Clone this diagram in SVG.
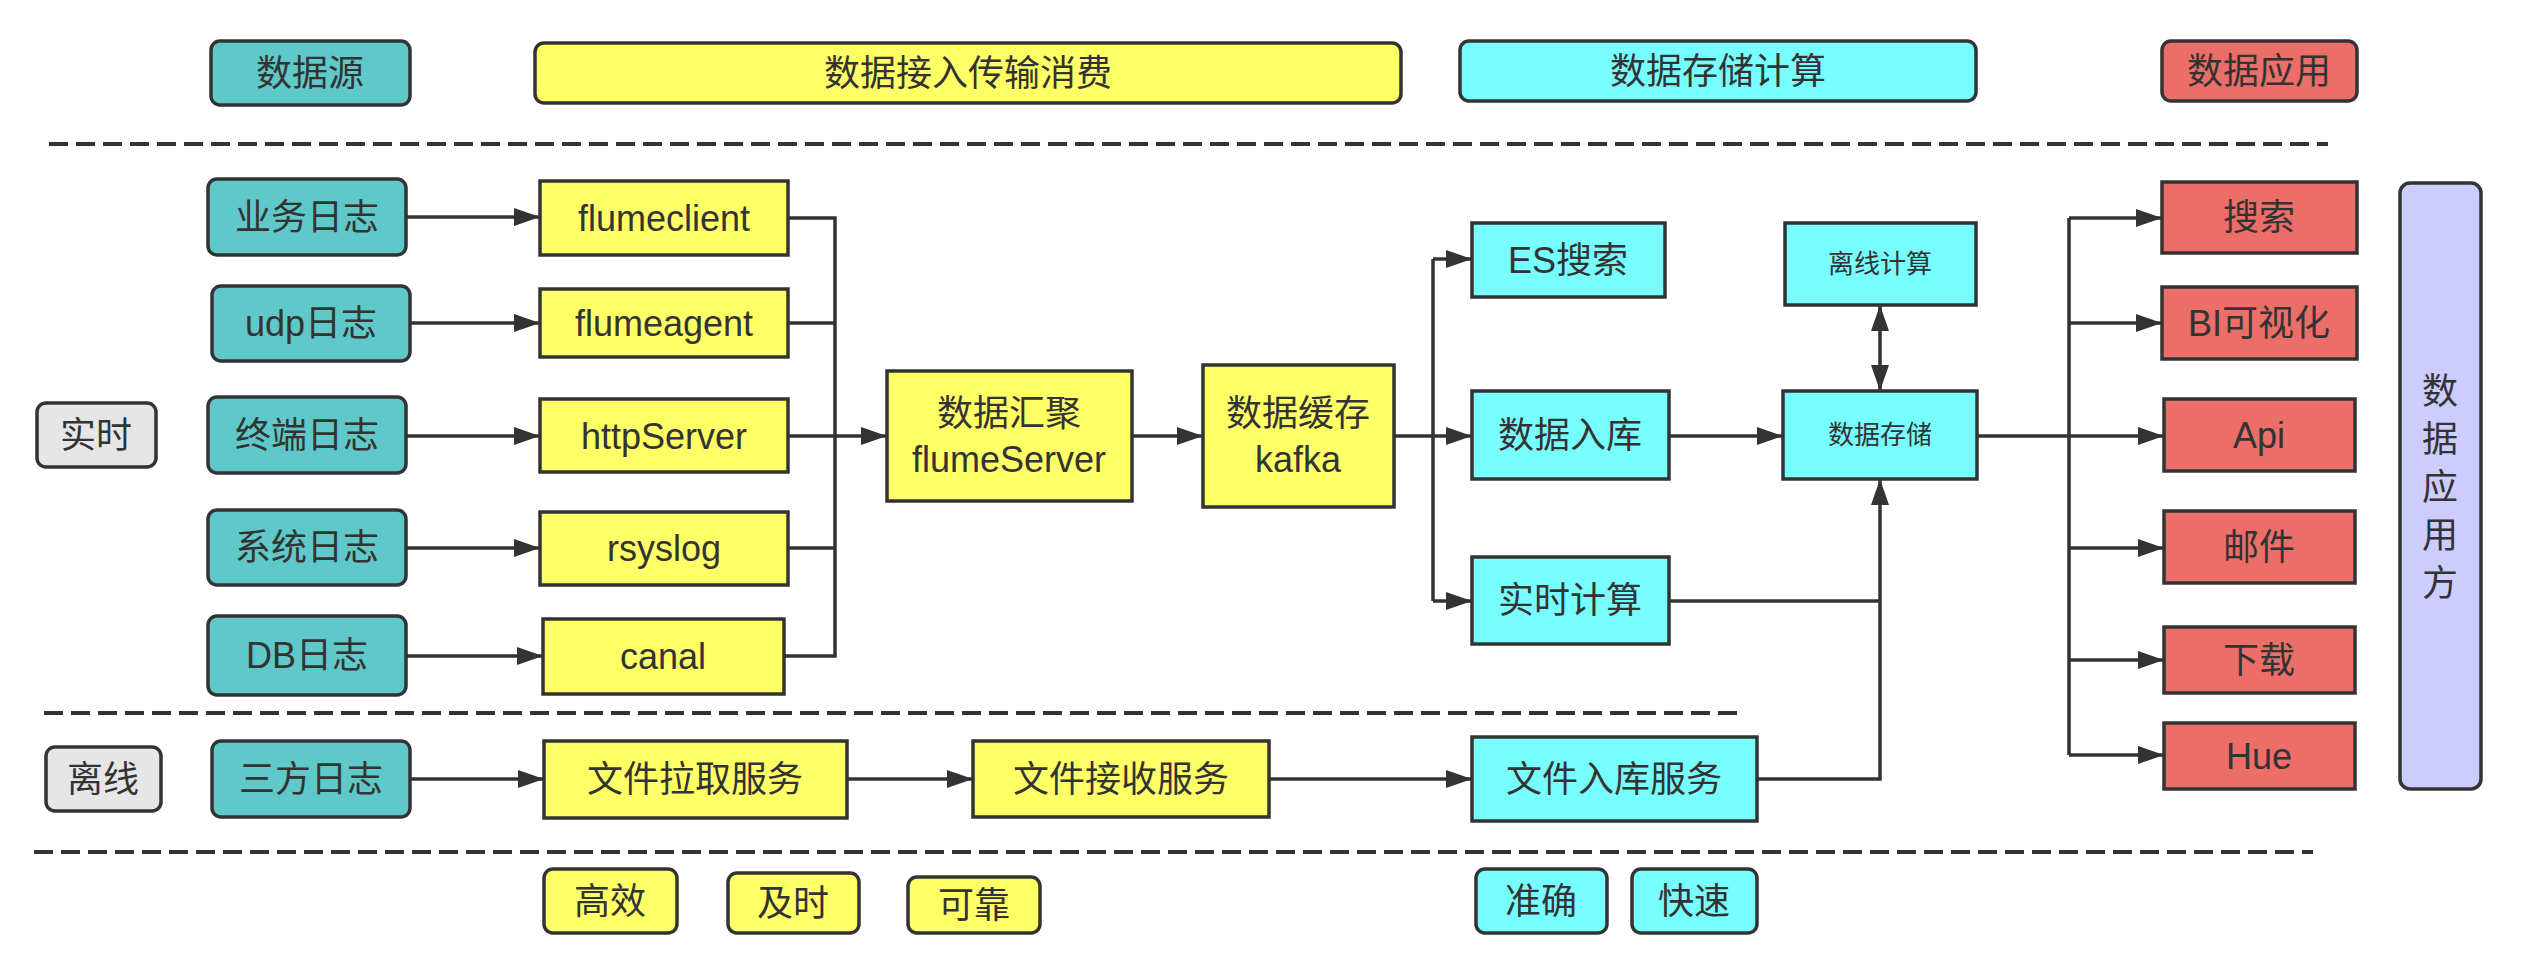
<svg xmlns="http://www.w3.org/2000/svg" width="2536" height="964" viewBox="0 0 2536 964">
<defs>
<style>
.b{stroke:#333;stroke-width:3.5}
.teal{fill:#5FC9C9}
.cyan{fill:#77FEFE}
.yel{fill:#FFFF66}
.red{fill:#EB6E69}
.pur{fill:#CCCCFF}
.gray{fill:#E6E6E6}
text{font-family:"Liberation Sans","Noto Sans CJK SC",sans-serif;font-size:36px;fill:#333;text-anchor:middle;dominant-baseline:central}
.sm{font-size:26px}
.c{fill:none;stroke:#333;stroke-width:3.5}
.ar{marker-end:url(#ah)}
.dash{fill:none;stroke:#333;stroke-width:4;stroke-dasharray:19 8}
</style>
<marker id="ah" markerUnits="userSpaceOnUse" markerWidth="26" markerHeight="20" refX="26" refY="10" orient="auto">
<path d="M0,1 L26,10 L0,19 z" fill="#333"/>
</marker>
<marker id="as" markerUnits="userSpaceOnUse" markerWidth="26" markerHeight="20" refX="0" refY="10" orient="auto">
<path d="M26,1 L0,10 L26,19 z" fill="#333"/>
</marker>
</defs>

<g id="dashes">
<line class="dash" x1="49" y1="144" x2="2328" y2="144"/>
<line class="dash" x1="44" y1="713" x2="1745" y2="713"/>
<line class="dash" x1="34" y1="852" x2="2313" y2="852"/>
</g>

<g id="connectors">
<path class="c ar" d="M406,217 L540,217"/>
<path class="c ar" d="M410,323 L540,323"/>
<path class="c ar" d="M406,436 L540,436"/>
<path class="c ar" d="M406,548 L540,548"/>
<path class="c ar" d="M406,656 L543,656"/>
<path class="c" d="M788,218 L835,218 L835,656 L784,656 M788,323 L835,323 M788,436 L835,436 M788,548 L835,548"/>
<path class="c ar" d="M835,436 L887,436"/>
<path class="c ar" d="M1132,436 L1203,436"/>
<path class="c" d="M1394,436 L1433,436 M1433,259 L1433,601"/>
<path class="c ar" d="M1433,259 L1472,259"/>
<path class="c ar" d="M1433,436 L1472,436"/>
<path class="c ar" d="M1433,601 L1472,601"/>
<path class="c ar" d="M1669,436 L1783,436"/>
<path class="c" d="M1669,601 L1880,601"/>
<path class="c ar" d="M1757,779 L1880,779 L1880,479"/>
<path class="c ar" style="marker-start:url(#as)" d="M1880,305 L1880,391"/>
<path class="c" d="M1977,436 L2069,436 M2069,218 L2069,755"/>
<path class="c ar" d="M2069,218 L2162,218"/>
<path class="c ar" d="M2069,323 L2162,323"/>
<path class="c ar" d="M2069,436 L2164,436"/>
<path class="c ar" d="M2069,548 L2164,548"/>
<path class="c ar" d="M2069,660 L2164,660"/>
<path class="c ar" d="M2069,755 L2164,755"/>
<path class="c ar" d="M410,779 L544,779"/>
<path class="c ar" d="M847,779 L973,779"/>
<path class="c ar" d="M1269,779 L1472,779"/>
</g>

<g id="h-source"><rect class="b teal" x="211" y="41" width="199" height="64" rx="9"/><text x="310" y="73">数据源</text></g>
<g id="h-ingest"><rect class="b yel" x="535" y="43" width="866" height="60" rx="9"/><text x="968" y="73">数据接入传输消费</text></g>
<g id="h-store"><rect class="b cyan" x="1460" y="41" width="516" height="60" rx="9"/><text x="1718" y="71">数据存储计算</text></g>
<g id="h-app"><rect class="b red" x="2162" y="41" width="195" height="60" rx="9"/><text x="2259" y="71">数据应用</text></g>

<g id="realtime"><rect class="b gray" x="37" y="403" width="119" height="64" rx="9"/><text x="96" y="435">实时</text></g>
<g id="offline"><rect class="b gray" x="46" y="747" width="115" height="64" rx="9"/><text x="103" y="779">离线</text></g>

<g id="src-biz"><rect class="b teal" x="208" y="179" width="198" height="76" rx="9"/><text x="307" y="217">业务日志</text></g>
<g id="src-udp"><rect class="b teal" x="212" y="286" width="198" height="75" rx="9"/><text x="311" y="323">udp日志</text></g>
<g id="src-term"><rect class="b teal" x="208" y="397" width="198" height="76" rx="9"/><text x="307" y="435">终端日志</text></g>
<g id="src-sys"><rect class="b teal" x="208" y="510" width="198" height="75" rx="9"/><text x="307" y="547">系统日志</text></g>
<g id="src-db"><rect class="b teal" x="208" y="616" width="198" height="79" rx="9"/><text x="307" y="655">DB日志</text></g>
<g id="src-third"><rect class="b teal" x="212" y="741" width="198" height="76" rx="9"/><text x="311" y="779">三方日志</text></g>

<g id="flumeclient"><rect class="b yel" x="540" y="181" width="248" height="74"/><text x="664" y="218">flumeclient</text></g>
<g id="flumeagent"><rect class="b yel" x="540" y="289" width="248" height="68"/><text x="664" y="323">flumeagent</text></g>
<g id="httpServer"><rect class="b yel" x="540" y="399" width="248" height="73"/><text x="664" y="436">httpServer</text></g>
<g id="rsyslog"><rect class="b yel" x="540" y="512" width="248" height="73"/><text x="664" y="548">rsyslog</text></g>
<g id="canal"><rect class="b yel" x="543" y="619" width="241" height="75"/><text x="663" y="656">canal</text></g>
<g id="flumeServer"><rect class="b yel" x="887" y="371" width="245" height="130"/><text x="1009" y="413">数据汇聚</text><text x="1009" y="459">flumeServer</text></g>
<g id="kafka"><rect class="b yel" x="1203" y="365" width="191" height="142"/><text x="1298" y="413">数据缓存</text><text x="1298" y="459">kafka</text></g>
<g id="pull"><rect class="b yel" x="544" y="741" width="303" height="77"/><text x="695" y="779">文件拉取服务</text></g>
<g id="recv"><rect class="b yel" x="973" y="741" width="296" height="76"/><text x="1121" y="779">文件接收服务</text></g>

<g id="es"><rect class="b cyan" x="1472" y="223" width="193" height="74"/><text x="1568" y="260">ES搜索</text></g>
<g id="ingestdb"><rect class="b cyan" x="1472" y="391" width="197" height="88"/><text x="1570" y="435">数据入库</text></g>
<g id="rtcalc"><rect class="b cyan" x="1472" y="557" width="197" height="87"/><text x="1570" y="600">实时计算</text></g>
<g id="offcalc"><rect class="b cyan" x="1785" y="223" width="191" height="82"/><text class="sm" x="1880" y="264">离线计算</text></g>
<g id="storage"><rect class="b cyan" x="1783" y="391" width="194" height="88"/><text class="sm" x="1880" y="435">数据存储</text></g>
<g id="fileingest"><rect class="b cyan" x="1472" y="737" width="285" height="84"/><text x="1614" y="779">文件入库服务</text></g>

<g id="search"><rect class="b red" x="2162" y="182" width="195" height="71"/><text x="2259" y="217">搜索</text></g>
<g id="bi"><rect class="b red" x="2162" y="287" width="195" height="72"/><text x="2259" y="323">BI可视化</text></g>
<g id="api"><rect class="b red" x="2164" y="399" width="191" height="72"/><text x="2259" y="435">Api</text></g>
<g id="mail"><rect class="b red" x="2164" y="511" width="191" height="72"/><text x="2259" y="547">邮件</text></g>
<g id="download"><rect class="b red" x="2164" y="627" width="191" height="66"/><text x="2259" y="660">下载</text></g>
<g id="hue"><rect class="b red" x="2164" y="723" width="191" height="66"/><text x="2259" y="756">Hue</text></g>

<g id="consumer"><rect class="b pur" x="2400" y="183" width="81" height="606" rx="10"/>
<text x="2440" y="391">数</text><text x="2440" y="439">据</text><text x="2440" y="487">应</text><text x="2440" y="535">用</text><text x="2440" y="583">方</text></g>

<g id="t-eff"><rect class="b yel" x="544" y="869" width="133" height="64" rx="9"/><text x="610" y="901">高效</text></g>
<g id="t-time"><rect class="b yel" x="728" y="873" width="131" height="60" rx="9"/><text x="793" y="903">及时</text></g>
<g id="t-rel"><rect class="b yel" x="908" y="877" width="132" height="56" rx="9"/><text x="974" y="905">可靠</text></g>
<g id="t-acc"><rect class="b cyan" x="1476" y="869" width="131" height="64" rx="9"/><text x="1541" y="901">准确</text></g>
<g id="t-fast"><rect class="b cyan" x="1632" y="869" width="125" height="64" rx="9"/><text x="1694" y="901">快速</text></g>
</svg>
